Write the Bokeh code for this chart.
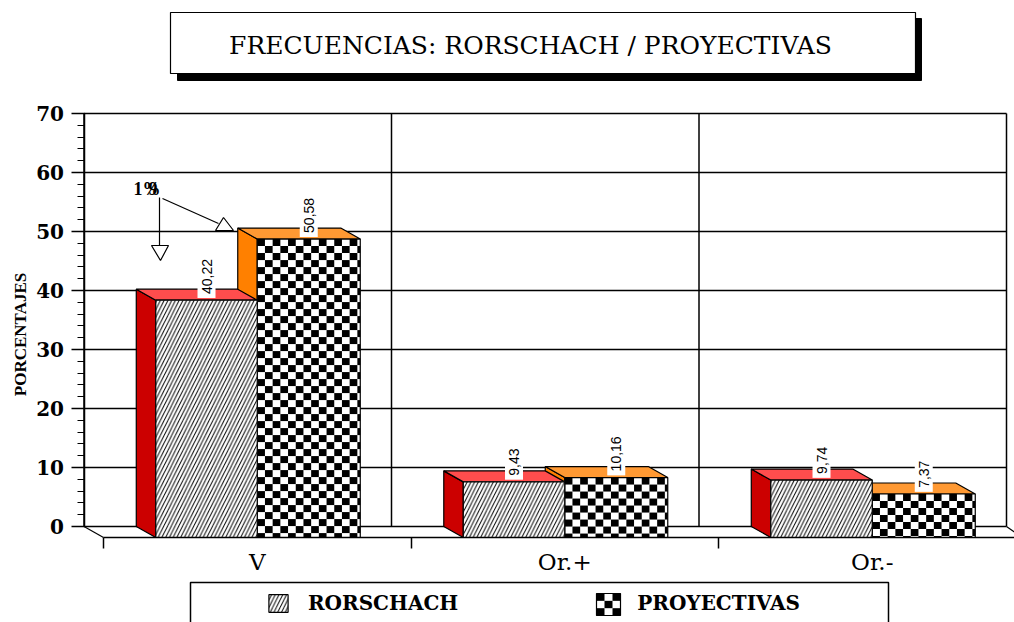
import numpy as np
from bokeh.embed import file_html
from bokeh.resources import INLINE
from bokeh.plotting import figure
from bokeh.models import Range1d, FixedTicker, Legend, LegendItem
from bokeh.core.properties import value

categories = ["V", "Or.+", "Or.-"]
rorschach = [40.22, 9.43, 9.74]
proyectivas = [50.58, 10.16, 7.37]
ror_labels = ["40,22", "9,43", "9,74"]
pro_labels = ["50,58", "10,16", "7,37"]
y_ticks = [0, 10, 20, 30, 40, 50, 60, 70]
y_minor = [v for v in range(0, 71, 2) if v % 10]
title_text = "FRECUENCIAS: RORSCHACH / PROYECTIVAS"
y_title = "PORCENTAJES"
note_text = "1%"
note_over = "9"

W, H = 1014, 622
ZERO_PX, PER_UNIT = 526, 5.9
CAT_PX0, PER_CAT = 103, 307.5

def dx(px):
    return (px - CAT_PX0) / PER_CAT
def dy(py):
    return (ZERO_PX - py) / PER_UNIT

DEPTH_X = 19.5 / PER_CAT
DEPTH_Y = 11 / PER_UNIT
HALF_L, HALF_R = 0.33, 0.335
CELL_X, CELL_Y = 7.7 / PER_CAT, 7 / PER_UNIT

p = figure(width=W, height=H, output_backend="svg", toolbar_location=None,
           x_range=Range1d(dx(0), dx(W)), y_range=Range1d(dy(H), dy(0)),
           min_border_left=0, min_border_right=0, min_border_top=0, min_border_bottom=0)
p.outline_line_color = None
p.grid.visible = False
p.background_fill_color = "white"

walls = [i - DEPTH_X for i in range(4)]

ya = p.yaxis[0]
ya.fixed_location = walls[0]
ya.ticker = FixedTicker(ticks=y_ticks, minor_ticks=y_minor)
ya.bounds = (0, 70)
ya.major_tick_out = 13; ya.major_tick_in = 0
ya.minor_tick_out = 7; ya.minor_tick_in = 0
ya.major_tick_line_width = 1.5; ya.minor_tick_line_width = 1.2
ya.axis_line_width = 1.5
ya.major_tick_line_color = ya.minor_tick_line_color = ya.axis_line_color = "black"
ya.major_label_text_font = "DejaVu Serif"
ya.major_label_text_font_size = "20px"
ya.major_label_text_font_style = "bold"
ya.major_label_text_color = "black"
ya.major_label_standoff = 7

centers = [i + 0.5 for i in range(len(categories))]
xa = p.xaxis[0]
xa.fixed_location = -DEPTH_Y
xa.ticker = FixedTicker(ticks=centers, minor_ticks=[0, 1, 2])
xa.major_label_overrides = dict(zip(centers, categories))
xa.bounds = (0, dx(W))
xa.major_tick_out = 0; xa.major_tick_in = 0
xa.minor_tick_out = 11; xa.minor_tick_in = 0
xa.minor_tick_line_color = "black"; xa.minor_tick_line_width = 1.5
xa.axis_line_color = "black"; xa.axis_line_width = 1.5
xa.major_label_text_font = "DejaVu Serif"
xa.major_label_text_font_size = "23px"
xa.major_label_text_color = "black"
xa.major_label_standoff = 0

p.segment(x0=walls[0], x1=walls[-1], y0=y_ticks, y1=y_ticks, line_color="black", line_width=1.5)
p.segment(x0=walls, x1=walls, y0=0, y1=70, line_color="black", line_width=1.5)
p.segment(x0=walls[0], x1=0, y0=0, y1=-DEPTH_Y, line_color="black", line_width=1.2)
p.segment(x0=walls[-1], x1=dx(W), y0=0, y1=-DEPTH_Y / 2, line_color="black", line_width=1.2)

def bar(left, right, v, side, top, **front):
    p.patch([left - DEPTH_X, left, left, left - DEPTH_X], [0, -DEPTH_Y, v - DEPTH_Y, v],
            fill_color=side, line_color="black", line_width=1.2)
    p.patch([left - DEPTH_X, right - DEPTH_X, right, left], [v, v, v - DEPTH_Y, v - DEPTH_Y],
            fill_color=top, line_color="black", line_width=1.2)
    return p.quad(left=left, right=right, bottom=-DEPTH_Y, top=v - DEPTH_Y,
                  line_color="black", line_width=1.2, **front)

def check_cells(left, right, top, bottom, cx, cy):
    ls, rs, ts, bs = [], [], [], []
    ncol = int(np.ceil((right - left) / cx - 1e-9))
    nrow = int(np.ceil((top - bottom) / cy - 1e-9))
    for j in range(nrow):
        for i in range(j % 2, ncol, 2):
            ls.append(left + i * cx)
            rs.append(min(left + (i + 1) * cx, right))
            ts.append(top - j * cy)
            bs.append(max(top - (j + 1) * cy, bottom))
    p.quad(left=ls, right=rs, top=ts, bottom=bs, fill_color="black", line_color=None)

ror_style = dict(fill_color="white", hatch_pattern="right_diagonal_line", hatch_color="black",
                 hatch_scale=7.5, hatch_weight=1)

rr = None
for c, rv, pv in zip(centers, rorschach, proyectivas):
    bar(c, c + HALF_R, pv, "#FF8000", "#FF9933", fill_color="white")
    check_cells(c, c + HALF_R, pv - DEPTH_Y, -DEPTH_Y, CELL_X, CELL_Y)
    rr = bar(c - HALF_L, c, rv, "#CC0000", "#FF4D4D", **ror_style)

lab_x = [c - HALF_L / 2 for c in centers] + [c + HALF_R / 2 for c in centers]
lab_y = [v - 1.5 for v in rorschach + proyectivas]
p.text(x=lab_x, y=lab_y, text=ror_labels + pro_labels, angle=np.pi / 2,
       text_font=value("Liberation Sans"), text_font_size="14px", text_color="black",
       text_align="left", text_baseline="middle",
       background_fill_color="white", padding=4)

p.quad(left=dx(177), right=dx(921), top=dy(18), bottom=dy(80), fill_color="black", line_color="black")
p.quad(left=dx(170), right=dx(915), top=dy(12), bottom=dy(73), fill_color="white", line_color="black", line_width=1.2)
p.text(x=[dx(530)], y=[dy(45)], text=[title_text], text_font=value("DejaVu Serif"),
       text_font_size="25px", text_align="center", text_baseline="middle", text_color="black")

p.text(x=[dx(133)], y=[dy(188)], text=[note_text], text_font=value("Liberation Serif"), text_font_size="18px",
       text_font_style="bold", text_align="left", text_baseline="middle", text_color="black")
p.text(x=[dx(148)], y=[dy(188)], text=[note_over], text_font=value("Liberation Serif"), text_font_size="18px",
       text_font_style="bold", text_align="left", text_baseline="middle", text_color="black")
p.segment(x0=[dx(159), dx(162)], x1=[dx(159), dx(218)], y0=[dy(197), dy(198)], y1=[dy(245), dy(223)],
          line_color="black", line_width=1.2)
p.patches(xs=[[dx(151), dx(168), dx(160)], [dx(215), dx(233), dx(223)]],
          ys=[[dy(245), dy(245), dy(260)], [dy(230), dy(230), dy(217)]],
          fill_color="white", line_color="black", line_width=1.2)

p.text(x=[dx(20)], y=[dy(334)], text=[y_title], angle=np.pi / 2, text_font=value("Liberation Serif"),
       text_font_size="17px", text_font_style="bold", text_align="center", text_baseline="middle",
       text_color="black")

# legend frame and the checked swatch, with the real legend on top
p.quad(left=dx(190), right=dx(888), top=dy(582), bottom=dy(630), fill_color="white", line_color="black", line_width=1.5)
check_cells(dx(596), dx(620), dy(593), dy(615), 8 / PER_CAT, 7.34 / PER_UNIT)
p.quad(left=dx(596), right=dx(620), top=dy(593), bottom=dy(615), fill_color=None, line_color="black", line_width=1.2)
pro_proxy = p.quad(left=[], right=[], top=[], bottom=[], fill_color=None, line_color=None)

legend = Legend(items=[LegendItem(label=value("RORSCHACH"), renderers=[rr]),
                       LegendItem(label=value("PROYECTIVAS"), renderers=[pro_proxy])],
                orientation="horizontal", location=(266, 7), margin=0, padding=11, spacing=137,
                glyph_width=24, glyph_height=22, label_standoff=18,
                label_text_font="DejaVu Serif", label_text_font_size="20px", label_text_font_style="bold",
                label_text_color="black", border_line_color=None, background_fill_alpha=0)
p.add_layout(legend)

open("out.html", "w").write(file_html(p, INLINE))
